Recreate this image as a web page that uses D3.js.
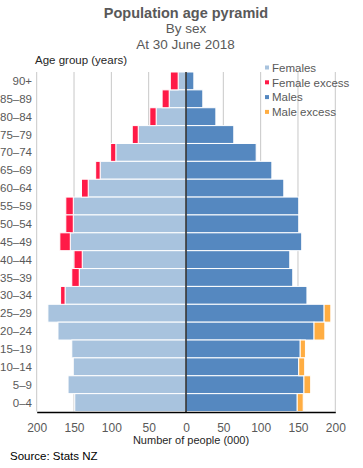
<!DOCTYPE html>
<html>
<head>
<meta charset="utf-8">
<script src="https://cdn.jsdelivr.net/npm/d3@7"></script>
<style>
  body { margin: 0; background: #fff; }
  svg { display: block; font-family: "Liberation Sans", Arial, sans-serif; }
</style>
</head>
<body>
<div class="chart"></div>
<script>
var width = 363;
var height = 468;

// age groups, top to bottom
var ages = ['90+', '85\u201389', '80\u201384', '75\u201379', '70\u201374', '65\u201369', '60\u201364',
  '55\u201359', '50\u201354', '45\u201349', '40\u201344', '35\u201339', '30\u201334', '25\u201329',
  '20\u201324', '15\u201319', '10\u201314', '5\u20139', '0\u20134'];
// population (000)
var females = [21, 32, 48.5, 72, 101, 121, 140, 161, 161, 169, 150, 153, 168, 185, 171.5, 153, 151, 158, 149];
var males = [10.5, 22.5, 40, 64, 94, 115, 131, 151, 151, 155, 139, 143, 162, 194, 186, 160, 159, 167, 157];
var tickValues = [-200, -150, -100, -50, 0, 50, 100, 150, 200];
var legendItems = ['Females', 'Female excess', 'Males', 'Male excess'];
var colors = ['#a8c3de', '#ff1a47', '#5588c0', '#ffad42'];

var rows = ages.map(function(a, i){
  var f = females[i], m = males[i];
  return {age: a, common: Math.min(f, m), fx: Math.max(f - m, 0), mx: Math.max(m - f, 0)};
});

var svg = d3.select('.chart')
  .append('svg')
  .attr('width', width)
  .attr('height', height);

var x = d3.scaleLinear().domain([-200, 200]).range([36.7, 335.3]);
var y = d3.scaleBand().domain(ages).range([72, 411.5]).padding(0);

// titles
svg.append('text').attr('x', 186).attr('y', 18).attr('text-anchor', 'middle')
  .attr('font-size', '14.5px').attr('font-weight', 'bold').attr('fill', '#595959')
  .text('Population age pyramid');
svg.append('text').attr('x', 186).attr('y', 33).attr('text-anchor', 'middle')
  .attr('font-size', '13.5px').attr('fill', '#595959').text('By sex');
svg.append('text').attr('x', 185.5).attr('y', 49).attr('text-anchor', 'middle')
  .attr('font-size', '13.5px').attr('fill', '#595959').text('At 30 June 2018');
svg.append('text').attr('x', 35).attr('y', 64)
  .attr('font-size', '11.5px').attr('fill', '#262626').text('Age group (years)');

// gridlines
svg.selectAll('.grid')
  .data(tickValues.filter(function(d){ return d !== 0; }))
  .enter().append('line')
  .attr('class', 'grid')
  .attr('x1', function(d){ return x(d); })
  .attr('x2', function(d){ return x(d); })
  .attr('y1', 72).attr('y2', 411.5)
  .attr('stroke', '#c8c8c8').attr('stroke-width', 1);

// legend
var legend = svg.selectAll('.legend')
  .data(legendItems)
  .enter().append('g')
  .attr('class', 'legend')
  .attr('transform', function(d, i){ return 'translate(265,' + (67.5 + i * 14.8) + ')'; });
legend.append('rect').attr('x', 0).attr('y', -2).attr('width', 4).attr('height', 4)
  .attr('fill', function(d, i){ return colors[i]; });
legend.append('text').attr('x', 7).attr('y', 4.3)
  .attr('font-size', '11.5px').attr('fill', '#595959')
  .text(function(d){ return d; });

// bars
function bars(cls, x0, x1, color){
  svg.selectAll('.' + cls)
    .data(rows)
    .enter().append('rect')
    .attr('class', cls)
    .attr('x', function(d){ return Math.min(x0(d), x1(d)); })
    .attr('width', function(d){ return Math.abs(x1(d) - x0(d)); })
    .attr('y', function(d){ return y(d.age); })
    .attr('height', y.bandwidth())
    .attr('fill', color)
    .attr('stroke', '#fff').attr('stroke-width', 1);
}
bars('fcommon', function(d){ return x(0); }, function(d){ return x(-d.common); }, colors[0]);
bars('fexcess', function(d){ return x(-d.common); }, function(d){ return x(-d.common - d.fx); }, colors[1]);
bars('mcommon', function(d){ return x(0); }, function(d){ return x(d.common); }, colors[2]);
bars('mexcess', function(d){ return x(d.common); }, function(d){ return x(d.common + d.mx); }, colors[3]);
svg.selectAll('rect.fexcess, rect.mexcess').filter(function(d){ return d.fx + d.mx === 0; }).remove();

// zero line and bottom axis
svg.append('line').attr('x1', x(0)).attr('x2', x(0)).attr('y1', 72).attr('y2', 412)
  .attr('stroke', '#000').attr('stroke-width', 1.3);

var xAxis = svg.append('g')
  .attr('transform', 'translate(0,412)')
  .call(d3.axisBottom(x).tickValues(tickValues).tickSize(0).tickPadding(11)
    .tickFormat(function(d){ return Math.abs(d); }));
xAxis.select('.domain').attr('stroke', '#000').attr('stroke-width', 1.3);
xAxis.selectAll('text').attr('font-size', '12px').attr('fill', '#595959')
  .attr('font-family', '"Liberation Sans", Arial, sans-serif');

// age labels
svg.selectAll('.agelabel')
  .data(ages)
  .enter().append('text')
  .attr('class', 'agelabel')
  .attr('x', 32)
  .attr('y', function(d){ return y(d) + y.bandwidth() / 2; })
  .attr('dy', '0.35em')
  .attr('text-anchor', 'end')
  .attr('font-size', '11.5px').attr('fill', '#595959')
  .text(function(d){ return d; });

svg.append('text').attr('x', 191).attr('y', 444).attr('text-anchor', 'middle')
  .attr('font-size', '11px').attr('fill', '#262626').text('Number of people (000)');
svg.append('text').attr('x', 10).attr('y', 459.5)
  .attr('font-size', '11.5px').attr('fill', '#000').text('Source: Stats NZ');
</script>
</body>
</html>
